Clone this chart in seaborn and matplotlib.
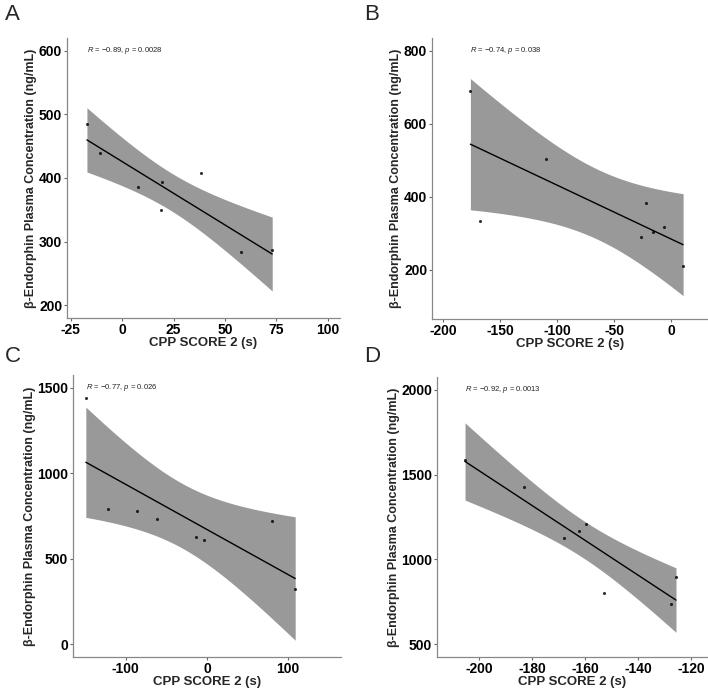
import numpy as np
import seaborn as sns
import matplotlib.pyplot as plt

# valores (x = CPP score 2, y = beta-endorfina)
a_x = [-17.2, -11.0, 7.8, 19.2, 18.8, 38.5, 57.8, 73.0]
a_y = [485.6, 440.0, 386.6, 393.3, 350.0, 408.2, 283.0, 287.0]
b_x = [-176.0, -167.9, -109.8, -26.3, -22.5, -16.0, -6.4, 10.2]
b_y = [690.0, 333.0, 504.5, 290.0, 382.0, 304.5, 318.0, 209.0]
c_x = [-149.2, -121.3, -85.7, -61.5, -13.1, -3.7, 79.5, 108.6]
c_y = [1438.0, 789.0, 781.0, 731.0, 630.0, 607.0, 721.0, 320.0]
d_x = [-205.4, -183.0, -167.8, -162.2, -159.8, -152.7, -127.5, -125.6]
d_y = [1583.0, 1424.0, 1124.0, 1170.0, 1207.0, 800.0, 738.0, 895.0]

letters = ["A", "B", "C", "D"]
stats = ["$R$ = \u22120.89, $p$ = 0.0028",
         "$R$ = \u22120.74, $p$ = 0.038",
         "$R$ = \u22120.77, $p$ = 0.026",
         "$R$ = \u22120.92, $p$ = 0.0013"]
x_ticks = [[-25, 0, 25, 50, 75, 100],
           [-200, -150, -100, -50, 0],
           [-100, 0, 100],
           [-200, -180, -160, -140, -120]]
y_ticks = [[200, 300, 400, 500, 600],
           [200, 400, 600, 800],
           [0, 500, 1000, 1500],
           [500, 1000, 1500, 2000]]
x_lims = [(-26.9, 106), (-209.6, 32), (-165, 165), (-216, -113.5)]
y_lims = [(180, 620), (65, 835), (-75, 1575), (425, 2075)]

sns.set_theme(style="ticks")
plt.rcParams['font.family'] = ['Liberation Sans', 'DejaVu Sans']
plt.rcParams['mathtext.fontset'] = 'custom'
plt.rcParams['mathtext.rm'] = 'Liberation Sans'
plt.rcParams['mathtext.it'] = 'Liberation Sans:italic'

W, H = 708, 688
fig = plt.figure(figsize=(W / 100, H / 100), dpi=100)

# cajas de los ejes en pixeles: izquierda, arriba, derecha, abajo
boxes = [(67, 38, 340, 318), (432, 38, 708, 319),
         (73, 375, 341, 657), (437, 377, 708, 657)]
letter_pos = [(5, 4), (364, 4), (5, 346), (364, 346)]

t_crit = 2.4469  # t(0.975, df=6), n = 8 en cada panel

for i, (x, y) in enumerate([(a_x, a_y), (b_x, b_y), (c_x, c_y), (d_x, d_y)]):
    l, t, r, b = boxes[i]
    ax = fig.add_axes([l / W, 1 - b / H, (r - l) / W, (b - t) / H])
    x = np.array(x)
    y = np.array(y)

    # banda de confianza del 95% (como geom_smooth method="lm")
    slope, icpt = np.polyfit(x, y, 1)
    resid = y - (slope * x + icpt)
    n = len(x)
    s = np.sqrt(np.sum(resid ** 2) / (n - 2))
    sxx = np.sum((x - x.mean()) ** 2)
    xs = np.linspace(x.min(), x.max(), 200)
    fit = slope * xs + icpt
    half = t_crit * s * np.sqrt(1 / n + (xs - x.mean()) ** 2 / sxx)
    ax.fill_between(xs, fit - half, fit + half, color="#999999", lw=0, zorder=1)

    sns.regplot(x=x, y=y, ax=ax, ci=None, color="black",
                scatter_kws=dict(s=5, linewidths=0, zorder=3),
                line_kws=dict(lw=1.0, zorder=2))

    ax.set_xlim(*x_lims[i])
    ax.set_ylim(*y_lims[i])
    ax.set_xticks(x_ticks[i])
    ax.set_xticklabels([str(v) for v in x_ticks[i]], fontweight="bold")
    ax.set_yticks(y_ticks[i])
    ax.set_yticklabels([str(v) for v in y_ticks[i]], fontweight="bold")
    ax.tick_params(labelsize=10, length=2.5, width=0.8, color="#666666",
                   labelcolor="black", pad=1)
    ax.set_xlabel("CPP SCORE 2 (s)", fontsize=9.5, fontweight="bold", labelpad=0)
    ax.set_ylabel("\u03b2-Endorphin Plasma Concentration (ng/mL)", fontsize=9,
                  fontweight="bold", labelpad=1)
    sns.despine(ax=ax)
    for side in ["left", "bottom"]:
        ax.spines[side].set_color("#888888")
        ax.spines[side].set_linewidth(0.9)

    ax.text(x.min(), y_ticks[i][-1], stats[i], fontsize=5.5, color="#222222",
            ha="left", va="center")

    lx, ly = letter_pos[i]
    fig.text(lx / W, 1 - ly / H, letters[i], fontsize=16, ha="left", va="top")

fig.savefig("out.png", dpi=100)
